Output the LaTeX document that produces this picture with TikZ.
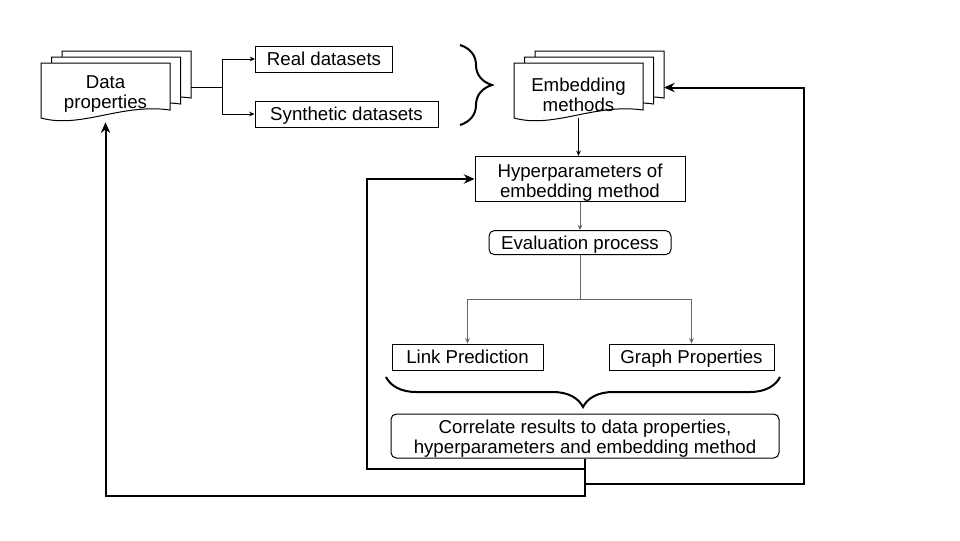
\documentclass[tikz,border=0pt]{standalone}
\usepackage{fontspec}
\setmainfont{Liberation Sans}
\usetikzlibrary{
  decorations.pathreplacing,
  calc,
  positioning,
  arrows.meta
}
\tikzset{%
  every node/.style={font=\fontsize{14}{15}\selectfont},
  box/.style={draw, line width=0.75pt, minimum height=19.5pt, inner sep=0pt, align=center},
  oneline/.style={text height=12pt, text depth=2pt}, % same baseline for one line boxes
  roundbox/.style={box, rounded corners=4pt},
  docnode/.style={minimum width=96.75pt, minimum height=41.25pt, inner sep=0pt},
  link/.style={draw, line width=0.6pt, -{Stealth[length=4pt,width=3.5pt]}},
  greylink/.style={link, draw=black!60},
  feedback/.style={draw, line width=1.5pt, -{Stealth[length=8pt,width=7pt]}}, % the loops back
  bracket/.style={draw, line width=1.5pt, decorate, decoration={brace, amplitude=#1}}
}
\newcommand{\lift}[1]{\rule{0pt}{#1}} % taller first line, pushes two line text down
% one page of a stack, #1 #2 = top left corner
\newcommand{\docpage}[2]{%
  \draw[fill=white, line width=0.75pt, shift={(#1,#2)}]
    (0,0) -- (129,0) -- (129,47) .. controls (80,40) and (40,66) .. (0,55) -- cycle;
}
% stack of three pages: name, centre x, centre y, text
\newcommand{\docstack}[4]{%
  \foreach \pg in {2,1,0}{%
    \docpage{#2-64.5+10.5*\pg}{#3-27.5-6*\pg}
  }
  \node[docnode] (#1) at (#2,#3) {};
  \node[align=center, inner sep=0pt] (#1-text) at (#2,#3+4) {#4};
  \coordinate (#1-back) at (#2+85.5,#3-3);
}

\begin{document}
\begin{tikzpicture}[x=0.75pt, y=-0.75pt]
  \useasboundingbox (0,0) rectangle (960,540);

  \docstack{dp}{105.5}{90.5}{Data\\properties}
  \docstack{em}{578.5}{90.5}{Embedding\\methods}

  \node[box, oneline, minimum width=102.75pt] (real) at (324,59) {Real datasets};
  \node[box, oneline, minimum width=137.25pt] (syn) at (346.5,114) {Synthetic datasets};
  \draw[bracket=24pt] (460,45) -- (460,125);

  \node[box, minimum width=157.5pt, minimum height=33pt] (hyp) at (580,179)
    {\lift{16pt}Hyperparameters of\\embedding method};
  \node[roundbox, oneline, minimum width=136.5pt, minimum height=18pt, below=21pt of hyp] (ev)
    {Evaluation process};
  \node[box, oneline, minimum width=113.25pt] (lp) at (467.5,357) {Link Prediction};
  \node[box, oneline, minimum width=123.75pt] (gp) at (691.5,357) {Graph Properties};
  \draw[bracket=22.5pt] (780,377) -- (386,377);
  \node[roundbox, minimum width=291pt, minimum height=33pt] (cor) at (585,436)
    {\lift{14pt}Correlate results to data properties,\\hyperparameters and embedding method};

  % forward links
  \draw[line width=0.6pt] (dp-back) -- ++(31,0) coordinate (split);
  \draw[link] (split) |- (real.west);
  \draw[link] (split) |- (syn.west);
  \draw[link] (em.south) -- (em.south |- hyp.north);
  \draw[greylink] (hyp.south) -- (ev.north);
  \draw[greylink, -] (ev.south) -- ++(0,44) coordinate (fork);
  \draw[greylink] (fork) -| (lp.north);
  \draw[greylink] (fork) -| (gp.north);

  % feedback loops
  \draw[feedback] (cor.south) -- ++(0,10) -- ++(-218,0) |- (hyp.west);
  \draw[feedback, shorten >=3pt] (cor.south) -- ++(0,37) -| (dp.south);
  \draw[feedback] (cor.south) -- ++(0,25) -- ++(219,0) |- (em-back);
\end{tikzpicture}
\end{document}
